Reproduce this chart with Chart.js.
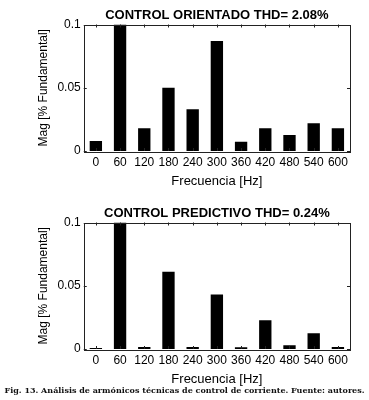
<!DOCTYPE html>
<html>
<head>
<meta charset="utf-8">
<script src="https://cdn.jsdelivr.net/npm/chart.js@4"></script>
<style>
  html, body { margin: 0; padding: 0; background: #fff; }
  body { width: 369px; height: 400px; position: relative; overflow: hidden; }
  .box { position: absolute; left: 0; width: 369px; height: 189px; }
  #caption {
    position: absolute; left: 0; top: 385px; width: 369px; text-align: center;
    font-family: "DejaVu Serif", serif; font-weight: bold; font-size: 8px; color: #111;
  }
</style>
</head>
<body>
<div class="box" style="top:0px"><canvas id="grafico1"></canvas></div>
<div class="box" style="top:198px"><canvas id="grafico2"></canvas></div>
<div id="caption">Fig. 13. Análisis de armónicos técnicas de control de corriente. Fuente: autores.</div>
<script>
const frecuencias = ["0", "60", "120", "180", "240", "300", "360", "420", "480", "540", "600"];
const magOrientado = [0.008, 0.1, 0.018, 0.050, 0.033, 0.087, 0.0074, 0.018, 0.0127, 0.022, 0.018];
const magPredictivo = [0.0008, 0.1, 0.0016, 0.061, 0.0016, 0.043, 0.0013, 0.0227, 0.0029, 0.0124, 0.0016];
const yTicks = [0, 0.05, 0.1];

// caja, marcas hacia dentro y titulo centrado sobre el area, estilo matlab
const cajaPlugin = {
  id: "caja",
  afterDatasetsDraw(chart, args, opts) {
    const ctx = chart.ctx;
    const a = chart.chartArea;
    const x = chart.scales.x, y = chart.scales.y;
    ctx.save();
    ctx.strokeStyle = "#222";
    ctx.lineWidth = 1;
    ctx.strokeRect(Math.round(a.left) + 0.5, Math.round(a.top) + 0.5,
                   Math.round(a.right - a.left), Math.round(a.bottom - a.top));
    ctx.beginPath();
    frecuencias.forEach((f, i) => {
      const px = Math.round(x.getPixelForValue(i)) + 0.5;
      ctx.moveTo(px, a.bottom); ctx.lineTo(px, a.bottom - 3);
      ctx.moveTo(px, a.top); ctx.lineTo(px, a.top + 3);
    });
    yTicks.forEach((v) => {
      const py = Math.round(y.getPixelForValue(v)) + 0.5;
      ctx.moveTo(a.left, py); ctx.lineTo(a.left + 3, py);
      ctx.moveTo(a.right, py); ctx.lineTo(a.right - 3, py);
    });
    ctx.stroke();

    ctx.fillStyle = "#000";
    ctx.font = "bold 13px 'Liberation Sans'";
    ctx.textAlign = "center";
    ctx.textBaseline = "middle";
    ctx.fillText(opts.texto, (a.left + a.right) / 2, a.top - 9.5);
    ctx.restore();
  }
};

function crearGrafico(id, titulo, valores) {
  const ctx = document.getElementById(id).getContext("2d");
  return new Chart(ctx, {
    type: "bar",
    data: {
      labels: frecuencias,
      datasets: [{
        data: valores,
        backgroundColor: "#000",
        borderWidth: 0,
        categoryPercentage: 1,
        barPercentage: 0.51,
      }],
    },
    options: {
      responsive: true,
      maintainAspectRatio: false,
      animation: false,
      layout: { padding: { left: 36, right: 19, top: 24.5, bottom: 0 } },
      plugins: {
        legend: { display: false },
        tooltip: { enabled: false },
        title: { display: false },
        caja: { texto: titulo },
      },
      scales: {
        x: {
          grid: { display: false, drawTicks: false },
          border: { display: false },
          ticks: { color: "#000", padding: 4, maxRotation: 0, autoSkip: false,
                   font: { family: "Liberation Sans", size: 12 } },
          title: { display: true, text: "Frecuencia [Hz]", color: "#000", padding: 0,
                   font: { family: "Liberation Sans", size: 13 } },
        },
        y: {
          min: 0,
          max: 0.1,
          grid: { display: false, drawTicks: false },
          border: { display: false },
          afterBuildTicks: (axis) => { axis.ticks = yTicks.map((v) => ({ value: v })); },
          ticks: { color: "#000", padding: 3,
                   font: { family: "Liberation Sans", size: 12 },
                   callback: (v) => String(v) },
          title: { display: true, text: "Mag [% Fundamental]", color: "#000",
                   padding: { top: 0, bottom: 4 },
                   font: { family: "Liberation Sans", size: 12 } },
        },
      },
    },
    plugins: [cajaPlugin],
  });
}

crearGrafico("grafico1", "CONTROL ORIENTADO THD= 2.08%", magOrientado);
crearGrafico("grafico2", "CONTROL PREDICTIVO THD= 0.24%", magPredictivo);
</script>
</body>
</html>
